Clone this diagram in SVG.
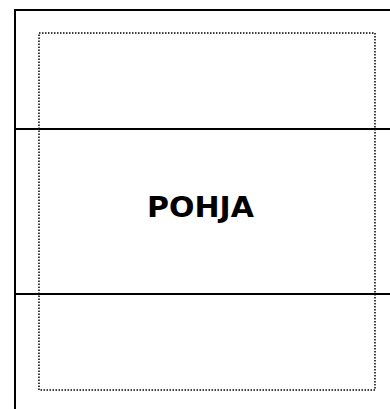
<svg xmlns="http://www.w3.org/2000/svg" width="390" height="409" viewBox="0 0 390 409">
<style>
.solid{stroke:#000;stroke-width:2;fill:none}
.dot{stroke:#000;stroke-width:1.5;fill:none;stroke-dasharray:1.5 1.5}
.lbl{font-family:"Comic Sans MS","DejaVu Sans",sans-serif;font-weight:bold;font-size:28px;fill:#000}
</style>
<rect width="390" height="409" fill="#fff"/>
<g id="frame">
<path class="solid" d="M15 409 V10 H390"/>
<path class="solid" d="M15 129 H390"/>
<path class="solid" d="M15 294 H390"/>
</g>
<g id="boundary">
<rect class="dot" x="39" y="33" width="336" height="357"/>
</g>
<g id="pohja">
<text class="lbl" x="147" y="217" textLength="107" lengthAdjust="spacingAndGlyphs">POHJA</text>
</g>
</svg>
